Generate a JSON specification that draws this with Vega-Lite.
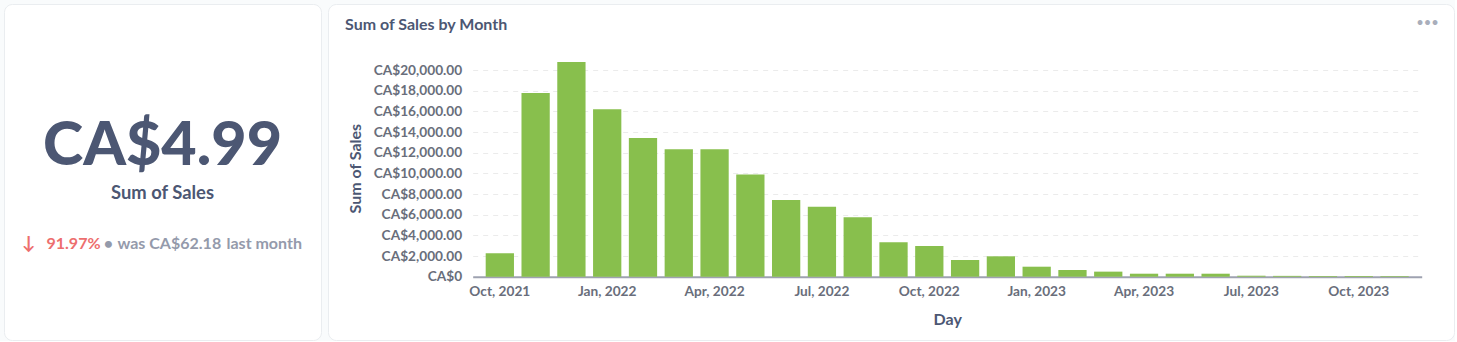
{
  "$schema": "https://vega.github.io/schema/vega-lite/v6.json",
  "background": "#f9fbfc",
  "padding": {"left": 3, "top": 3, "right": 0, "bottom": 0},
  "spacing": 5,
  "config": {
    "font": "Lato",
    "view": {"fill": "white", "stroke": "#eaedf0", "strokeWidth": 1, "cornerRadius": 8}
  },
  "hconcat": [
    {
      "width": 317,
      "height": 336,
      "data": {"values": [
        {"line": "value", "part": "value", "text": "CA$4.99"},
        {"line": "label", "part": "label", "text": "Sum of Sales"},
        {"line": "change", "part": "arrow", "text": "↓"},
        {"line": "change", "part": "pct", "text": "91.97%"},
        {"line": "change", "part": "dot", "text": "•"},
        {"line": "change", "part": "was", "text": "was CA$62.18"},
        {"line": "change", "part": "period", "text": "last month"}
      ]},
      "encoding": {
        "y": {"field": "line", "type": "ordinal", "scale": {"domain": ["value", "label", "change"], "range": [140, 240], "padding": 0}, "axis": null},
        "text": {"field": "text"}
      },
      "layer": [
        {"transform": [{"filter": "datum.part == 'value'"}], "mark": {"type": "text", "fontSize": 61, "fontWeight": 900, "color": "#4c5773", "baseline": "middle", "dy": 3}},
        {"transform": [{"filter": "datum.part == 'label'"}], "mark": {"type": "text", "fontSize": 18.4, "fontWeight": 700, "color": "#4c5773", "baseline": "middle", "dy": -1}},
        {"transform": [{"filter": "datum.part == 'arrow'"}], "mark": {"type": "text", "fontSize": 18, "fontWeight": 700, "color": "#ed6e6e", "baseline": "middle", "align": "center", "dx": -134}},
        {"transform": [{"filter": "datum.part == 'pct'"}], "mark": {"type": "text", "fontSize": 16, "fontWeight": 700, "color": "#ed6e6e", "baseline": "middle", "align": "left", "dx": -116}},
        {"transform": [{"filter": "datum.part == 'dot'"}], "mark": {"type": "text", "fontSize": 16, "fontWeight": 700, "color": "#949aab", "baseline": "middle", "align": "center", "dx": -54}},
        {"transform": [{"filter": "datum.part == 'was'"}], "mark": {"type": "text", "fontSize": 16, "fontWeight": 700, "color": "#949aab", "baseline": "middle", "align": "left", "dx": -45}},
        {"transform": [{"filter": "datum.part == 'period'"}], "mark": {"type": "text", "fontSize": 16, "fontWeight": 700, "color": "#949aab", "baseline": "middle", "align": "left", "dx": 64}}
      ]
    },
    {
      "width": 1126,
      "height": 336,
      "title": {"text": "Sum of Sales by Month", "anchor": "start", "frame": "group", "offset": -29, "dx": 17, "fontSize": 16, "fontWeight": 700, "color": "#4c5773", "font": "Lato"},
      "data": {"values": [
        {"month": "2021-10-01", "sales": 2264},
        {"month": "2021-11-01", "sales": 17775},
        {"month": "2021-12-01", "sales": 20775},
        {"month": "2022-01-01", "sales": 16197},
        {"month": "2022-02-01", "sales": 13420},
        {"month": "2022-03-01", "sales": 12327},
        {"month": "2022-04-01", "sales": 12330},
        {"month": "2022-05-01", "sales": 9889},
        {"month": "2022-06-01", "sales": 7421},
        {"month": "2022-07-01", "sales": 6773},
        {"month": "2022-08-01", "sales": 5748},
        {"month": "2022-09-01", "sales": 3328},
        {"month": "2022-10-01", "sales": 2970},
        {"month": "2022-11-01", "sales": 1616},
        {"month": "2022-12-01", "sales": 1974},
        {"month": "2023-01-01", "sales": 968},
        {"month": "2023-02-01", "sales": 648},
        {"month": "2023-03-01", "sales": 490},
        {"month": "2023-04-01", "sales": 290},
        {"month": "2023-05-01", "sales": 290},
        {"month": "2023-06-01", "sales": 290},
        {"month": "2023-07-01", "sales": 95},
        {"month": "2023-08-01", "sales": 80},
        {"month": "2023-09-01", "sales": 70},
        {"month": "2023-10-01", "sales": 65},
        {"month": "2023-11-01", "sales": 62.18}
      ]},
      "encoding": {
        "x": {
          "field": "month", "type": "ordinal", "timeUnit": "utcyearmonth", "title": "Day",
          "scale": {"range": [144.7, 1093.7], "paddingInner": 0.21, "paddingOuter": 0.363},
          "axis": {
            "offset": -63.3,
            "labelExpr": "utcmonth(datum.value) % 3 == 0 ? utcFormat(datum.value, '%b, %Y') : ''",
            "labelAngle": 0, "labelFont": "Lato", "labelFontSize": 13.7, "labelFontWeight": 700, "labelColor": "#696e7b", "labelPadding": 8,
            "ticks": false, "domainColor": "#9ea2b0", "domainWidth": 2,
            "titleFont": "Lato", "titleFontSize": 16, "titleFontWeight": 700, "titleColor": "#4c5773", "titlePadding": 13
          }
        }
      },
      "layer": [
        {
          "mark": {"type": "bar", "color": "#88bf4d"},
          "encoding": {
            "y": {
              "field": "sales", "type": "quantitative", "title": "Sum of Sales",
              "scale": {"domain": [0, 21000], "nice": false, "range": [272.7, 55.7]},
              "axis": {
                "offset": -144.7,
                "values": [0, 2000, 4000, 6000, 8000, 10000, 12000, 14000, 16000, 18000, 20000],
                "labelExpr": "datum.value == 0 ? 'CA$0' : 'CA$' + format(datum.value, ',.2f')",
                "labelFont": "Lato", "labelFontSize": 13.7, "labelFontWeight": 700, "labelColor": "#696e7b", "labelPadding": 11,
                "ticks": false, "tickSize": 0, "domain": false,
                "grid": true, "gridColor": "#ebebeb", "gridDash": [5, 5], "gridWidth": 1,
                "titleFont": "Lato", "titleFontSize": 16, "titleFontWeight": 700, "titleColor": "#4c5773", "titlePadding": 10
              }
            }
          }
        },
        {
          "mark": {"type": "bar", "opacity": 0},
          "encoding": {
            "y": {
              "field": "sales", "type": "quantitative",
              "axis": {
                "orient": "right", "title": "•••", "labels": false, "ticks": false, "domain": false, "grid": false,
                "titleAngle": 0, "titleX": -27, "titleY": 18.5, "titleAlign": "center", "titleBaseline": "middle",
                "titleFont": "Lato", "titleFontSize": 13, "titleFontWeight": 400, "titleColor": "#a9aebb"
              }
            }
          }
        }
      ],
      "resolve": {"axis": {"y": "independent"}}
    }
  ]
}
